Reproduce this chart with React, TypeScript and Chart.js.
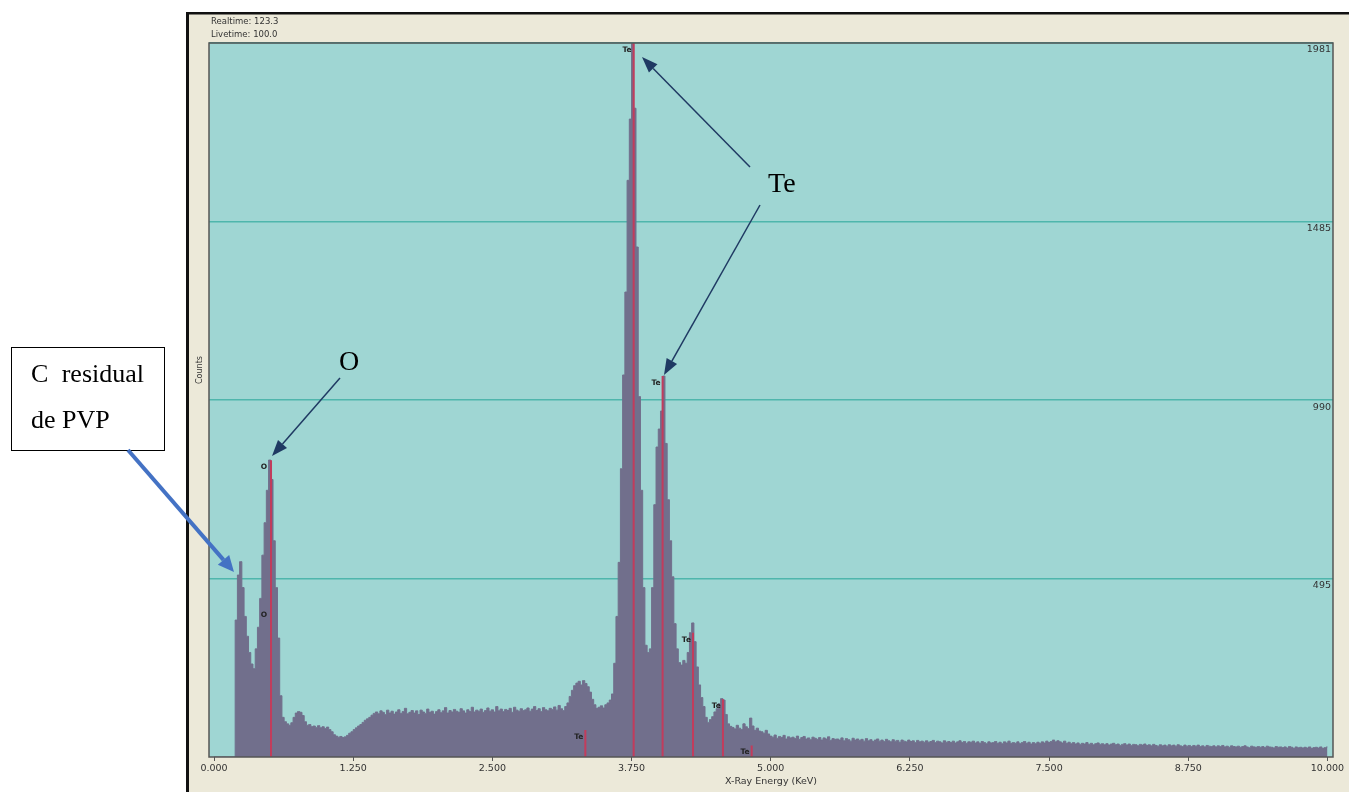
import React, { useEffect, useRef } from "react";
import { Chart, registerables } from "chart.js";

Chart.register(...registerables);

// ---------- data ----------
const CHANNEL_KEV = 0.02; // channel width (keV); channel i sits at i * CHANNEL_KEV

// counts per channel, 0.00 .. 10.00 keV
const countsLow = [
  0, 0, 0, 0, 0, 0, 0, 0, 0, 0,
  380, 505, 542, 470, 390, 335, 290, 258, 245, 300,
  360, 440, 560, 650, 740, 824, 770, 600, 470, 330,
  170, 110, 98, 92, 88, 95, 110, 122, 126, 124,
  115, 98, 88, 90, 84, 86, 82, 87, 81, 84,
  79, 83, 76, 70, 62, 58, 55, 57, 54, 56,
  60, 66, 70, 76, 81, 86, 90, 96, 102, 106,
  110, 116, 121, 125, 120, 128, 124, 118, 130, 122,
  127, 119, 125, 131, 121, 126, 135, 120, 124, 129,
  122, 128, 118, 130, 125, 121, 133, 124, 127, 119,
];
const countsMid = [
  126, 131, 123, 128, 137, 122, 129, 125, 132, 127,
  124, 134, 128, 122, 131, 126, 138, 125, 130, 127,
  133, 124, 129, 136, 127, 131, 125, 140, 128, 133,
  126, 132, 129, 135, 124, 138, 130, 127, 134, 129,
  131, 136, 127, 133, 140, 129, 134, 126, 137, 131,
  128, 135, 132, 139, 130, 143, 134, 129, 140, 150,
  168, 185, 198, 205, 210, 200, 212, 204, 195, 180,
  160, 145, 135, 138, 142, 136, 145, 150, 158, 175,
  260, 390, 540, 800, 1060, 1290, 1600, 1770, 1981, 1800,
  1415, 1000, 740, 470, 310, 290, 300, 470, 700, 860,
  910, 960, 1057, 870, 714, 600, 500, 370, 300, 262,
  255, 268, 260, 290, 345, 372, 320, 250, 200, 165,
  140, 110, 96, 104, 112, 125, 134, 148, 162, 158,
  118, 92, 85, 82, 78, 88, 80, 76, 92, 84,
  79, 108, 86, 74, 80, 72, 70, 66, 74, 64,
];
const countsHigh = [
  58, 55, 61, 52, 57, 54, 60, 50, 56, 53,
  55, 51, 58, 49, 54, 57, 50, 53, 48, 55,
  52, 49, 54, 47, 53, 50, 56, 46, 51, 49,
  50, 47, 53, 45, 51, 48, 44, 52, 47, 50,
  46, 49, 44, 51, 45, 48, 43, 47, 50, 44,
  47, 43, 49, 45, 42, 48, 44, 46, 41, 47,
  44, 42, 47, 43, 45, 40, 46, 42, 44, 41,
  45, 41, 43, 46, 40, 44, 42, 39, 45, 41,
  43, 40, 44, 39, 42, 45, 40, 43, 38, 42,
  41, 44, 39, 42, 38, 43, 40, 37, 42, 39,
  40, 43, 38, 41, 37, 42, 39, 44, 38, 40,
  38, 42, 37, 40, 43, 38, 41, 36, 40, 37,
  41, 38, 42, 39, 44, 40, 43, 47, 42, 45,
  42, 39, 44, 38, 41, 37, 40, 36, 39, 35,
  38, 36, 40, 35, 38, 34, 37, 39, 35, 37,
  34, 37, 33, 36, 38, 34, 36, 32, 35, 37,
  33, 36, 32, 35, 34, 31, 35, 33, 36, 32,
  34, 31, 35, 32, 30, 34, 31, 33, 30, 34,
  31, 33, 30, 34, 31, 29, 33, 30, 32, 29,
  32, 30, 33, 29, 31, 28, 32, 30, 29, 31,
  28, 31, 29, 32, 28, 30, 27, 31, 29, 28,
  30, 27, 29, 31, 28, 26, 30, 28, 27, 29,
  27, 29, 26, 30, 28, 27, 25, 29, 27, 28,
  26, 28, 25, 29, 27, 24, 28, 26, 27, 25,
  27, 25, 28, 24, 26, 27, 25, 28, 24, 26,
  28,
];
const counts = [...countsLow, ...countsMid, ...countsHigh];

// element line markers (KLM markers)
const markerEnergies = [0.512, 3.335, 3.769, 4.029, 4.302, 4.571, 4.829];
const markerHeights = [823, 75, 1981, 1057, 345, 160, 32];
const markerLabels = ["O", "Te", "Te", "Te", "Te", "Te", "Te"];
// extra marker label without a line
const extraLabelEnergies = [0.512];
const extraLabelHeights = [395];
const extraLabels = ["O"];

const xTicks = [0, 1.25, 2.5, 3.75, 5, 6.25, 7.5, 8.75, 10];
const yTicks = [495, 990, 1485, 1981];
const X_MIN = -0.045;
const X_MAX = 10.05;
const Y_MAX = 1981;

// ---------- styles ----------
const BEIGE = "#ECE9D9";
const PLOT_BG = "#9FD6D3";
const GRID = "#4FB6AC";
const SPECTRUM = "#716F8C";
const MARKER = "#C23C5C";
const NAVY = "#1F3A63";
const BLUE = "#4472C4";
const AXIS_FONT = "DejaVu Sans";

function drawArrow(
  ctx: CanvasRenderingContext2D,
  x1: number, y1: number, x2: number, y2: number,
  color: string, lw: number, hl: number, hw: number
) {
  const ang = Math.atan2(y2 - y1, x2 - x1);
  const bx = x2 - hl * Math.cos(ang);
  const by = y2 - hl * Math.sin(ang);
  ctx.strokeStyle = color;
  ctx.lineWidth = lw;
  ctx.beginPath();
  ctx.moveTo(x1, y1);
  ctx.lineTo(bx, by);
  ctx.stroke();
  ctx.fillStyle = color;
  ctx.beginPath();
  ctx.moveTo(x2, y2);
  ctx.lineTo(bx + (hw / 2) * Math.sin(ang), by - (hw / 2) * Math.cos(ang));
  ctx.lineTo(bx - (hw / 2) * Math.sin(ang), by + (hw / 2) * Math.cos(ang));
  ctx.closePath();
  ctx.fill();
}

const framePlugin = {
  id: "edsFrame",
  beforeDraw(chart: any) {
    const { ctx, chartArea: a, width, height } = chart;
    ctx.save();
    ctx.fillStyle = "#ffffff";
    ctx.fillRect(0, 0, width, height);
    ctx.fillStyle = BEIGE;
    ctx.fillRect(186, 12, width - 186, height - 12);
    ctx.fillStyle = PLOT_BG;
    ctx.fillRect(a.left, a.top, a.right - a.left, a.bottom - a.top);
    ctx.restore();
  },
  afterDraw(chart: any) {
    const { ctx, chartArea: a, scales } = chart;
    const xs = scales.x;
    const ys = scales.y;
    ctx.save();
    // outer black border (left + top)
    ctx.fillStyle = "#111";
    ctx.fillRect(186, 12, 3, 792 - 12);
    ctx.fillRect(186, 12, 1349 - 186, 2.5);
    // plot frame
    ctx.strokeStyle = "#555";
    ctx.lineWidth = 1.5;
    ctx.strokeRect(a.left, a.top, a.right - a.left, a.bottom - a.top);

    // header text
    ctx.fillStyle = "#333";
    ctx.font = `8.5px ${AXIS_FONT}`;
    ctx.textAlign = "left";
    ctx.textBaseline = "middle";
    ctx.fillText("Realtime: 123.3", 211, 22);
    ctx.fillText("Livetime: 100.0", 211, 35);

    // Counts (vertical)
    ctx.save();
    ctx.translate(200, 370);
    ctx.rotate(-Math.PI / 2);
    ctx.textAlign = "center";
    ctx.font = `8px ${AXIS_FONT}`;
    ctx.fillText("Counts", 0, 0);
    ctx.restore();

    // marker labels
    ctx.fillStyle = "#222";
    ctx.font = `bold 7.5px ${AXIS_FONT}`;
    ctx.textAlign = "right";
    ctx.textBaseline = "middle";
    markerEnergies.forEach((e, i) => {
      const px = xs.getPixelForValue(e) - (markerLabels[i] === "O" ? 4 : 2);
      const py = ys.getPixelForValue(markerHeights[i]) + 7;
      ctx.fillText(markerLabels[i], px, py);
    });
    extraLabelEnergies.forEach((e, i) => {
      const px = xs.getPixelForValue(e) - 4;
      const py = ys.getPixelForValue(extraLabelHeights[i]);
      ctx.fillText(extraLabels[i], px, py);
    });

    // annotations
    drawArrow(ctx, 750, 167, 642, 57, NAVY, 1.5, 16, 12);
    drawArrow(ctx, 760, 205, 664, 375, NAVY, 1.5, 16, 12);
    drawArrow(ctx, 340, 378, 272, 456, NAVY, 1.5, 16, 12);
    ctx.fillStyle = "#000";
    ctx.font = "28px 'Liberation Serif'";
    ctx.textAlign = "left";
    ctx.textBaseline = "alphabetic";
    ctx.fillText("Te", 768, 192);
    ctx.fillText("O", 339, 370);

    // box
    ctx.fillStyle = "#fff";
    ctx.fillRect(11, 347, 153, 103);
    ctx.strokeStyle = "#000";
    ctx.lineWidth = 1;
    ctx.strokeRect(11.5, 347.5, 153, 103);
    ctx.fillStyle = "#000";
    ctx.font = "26px 'Liberation Serif'";
    ctx.fillText("C", 31, 382);
    ctx.textAlign = "right";
    ctx.fillText("residual", 144, 382);
    ctx.textAlign = "left";
    ctx.fillText("de PVP", 31, 428);
    drawArrow(ctx, 128, 450, 234, 572, BLUE, 4, 16, 15);
    ctx.restore();
  },
};

export default function App() {
  const ref = useRef<HTMLCanvasElement | null>(null);
  useEffect(() => {
    if (!ref.current) return;
    const spectrum = counts.map((c, i) => ({ x: i * CHANNEL_KEV, y: c }));
    const markers: { x: number; y: number | null }[] = [];
    markerEnergies.forEach((e, i) => {
      markers.push({ x: e, y: 0 });
      markers.push({ x: e, y: markerHeights[i] });
      markers.push({ x: e, y: null });
    });
    const chart = new Chart(ref.current, {
      type: "line",
      data: {
        datasets: [
          {
            data: markers as any,
            borderColor: MARKER,
            borderWidth: 2,
            pointRadius: 0,
            spanGaps: false,
            fill: false,
            order: 1,
          },
          {
            data: spectrum,
            borderColor: SPECTRUM,
            backgroundColor: SPECTRUM,
            borderWidth: 1,
            pointRadius: 0,
            stepped: "middle",
            fill: "origin",
            order: 2,
          },
        ],
      },
      options: {
        animation: false,
        responsive: false,
        devicePixelRatio: 1,
        events: [],
        layout: { padding: { left: 209, right: 16, top: 43, bottom: 0 } },
        plugins: { legend: { display: false }, tooltip: { enabled: false } },
        scales: {
          x: {
            type: "linear",
            min: X_MIN,
            max: X_MAX,
            offset: false,
            afterBuildTicks: (s: any) => {
              s.ticks = xTicks.map((v) => ({ value: v }));
            },
            afterFit: (s: any) => {
              s.height = 35;
            },
            ticks: {
              callback: (v: any) => Number(v).toFixed(3),
              font: { family: AXIS_FONT, size: 9.5 },
              color: "#333",
              padding: 2,
              maxRotation: 0,
              autoSkip: false,
            },
            grid: {
              display: true,
              drawOnChartArea: false,
              drawTicks: true,
              tickLength: 4,
              color: "#555",
            },
            border: { display: false },
            title: {
              display: true,
              text: "X-Ray Energy (KeV)",
              font: { family: AXIS_FONT, size: 9.5 },
              color: "#333",
              padding: { top: 0, bottom: 5 },
            },
          },
          y: {
            type: "linear",
            position: "right",
            min: 0,
            max: Y_MAX,
            afterBuildTicks: (s: any) => {
              s.ticks = yTicks.map((v) => ({ value: v }));
            },
            afterFit: (s: any) => {
              s.width = 0;
            },
            ticks: {
              mirror: true,
              padding: -2,
              labelOffset: 7,
              font: { family: AXIS_FONT, size: 9.5 },
              color: "#333",
              callback: (v: any) => String(v),
            },
            grid: {
              color: GRID,
              lineWidth: 1.5,
              drawTicks: false,
            },
            border: { display: false },
          },
        },
      } as any,
      plugins: [framePlugin],
    });
    return () => chart.destroy();
  }, []);
  return (
    <div style={{ position: "absolute", left: 0, top: 0, width: 1349, height: 792, overflow: "hidden" }}>
      <canvas ref={ref} width={1349} height={792} style={{ display: "block", width: 1349, height: 792 }} />
    </div>
  );
}
